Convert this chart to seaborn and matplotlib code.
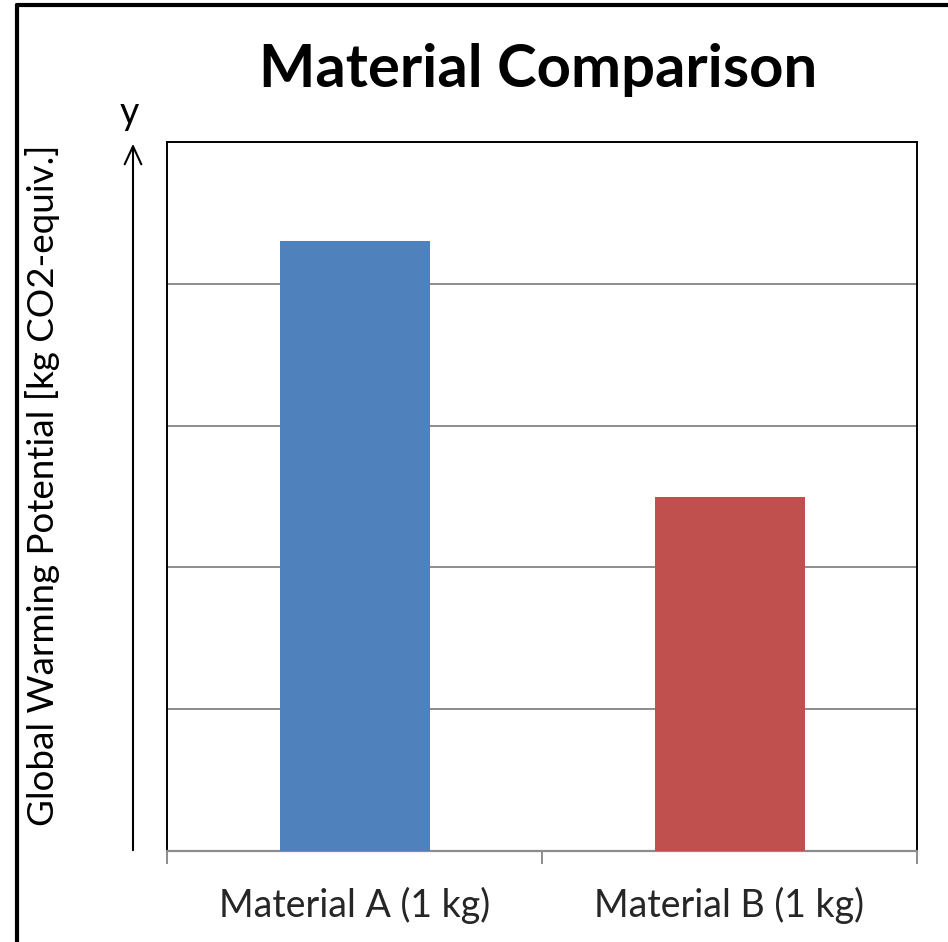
import matplotlib
matplotlib.use("Agg")
import matplotlib.pyplot as plt
import seaborn as sns
import pandas as pd
from matplotlib.lines import Line2D

# Data
materials = ["Material A (1 kg)", "Material B (1 kg)"]
gwp_values = [4.30, 2.50]
bar_colors = ["#4F81BD", "#C0504D"]
y_ticks = [0, 1, 2, 3, 4, 5]

sns.set_theme(style="white")
plt.rcParams["font.family"] = ["Lato", "DejaVu Sans"]

W, H = 948, 942
fig = plt.figure(figsize=(W / 100, H / 100), dpi=100)
fig.patch.set_facecolor("white")

def fx(px):
    return px / W

def fy(py):
    return 1 - py / H

ax = fig.add_axes([fx(167), fy(851), (917 - 167) / W, (851 - 142) / H])

df = pd.DataFrame({"material": materials, "gwp": gwp_values})
sns.barplot(data=df, x="material", y="gwp", hue="material",
            palette=bar_colors, width=0.40, saturation=1, legend=False,
            linewidth=0, ax=ax, zorder=3)

ax.set_xlim(-0.5, 1.5)
ax.set_ylim(y_ticks[0], y_ticks[-1])
ax.set_yticks(y_ticks)
ax.set_yticklabels([])
ax.tick_params(axis="y", length=0)
ax.yaxis.grid(True, color="#8C8C8C", linewidth=1.4, zorder=0)
ax.set_axisbelow(True)

ax.set_xticks([-0.5, 0.5, 1.5], minor=False)
ax.set_xticklabels([])
ax.set_xticks([0, 1], minor=True)
ax.set_xticklabels(materials, minor=True, fontsize=27)
ax.tick_params(axis="x", which="major", length=9, width=1.4, color="#8C8C8C",
               direction="out", bottom=True)
ax.tick_params(axis="x", which="minor", length=0, pad=26)
ax.set_xlabel("")
ax.set_ylabel("")

for side in ["left", "top", "right"]:
    ax.spines[side].set_color("black")
    ax.spines[side].set_linewidth(1.4)
ax.spines["bottom"].set_color("#8C8C8C")
ax.spines["bottom"].set_linewidth(1.6)

# Title and axis annotations
fig.text(fx(538), fy(70), "Material Comparison", ha="center", va="center",
         fontsize=43, fontweight="bold", color="black")
fig.text(fx(43), fy(485), "Global Warming Potential [kg CO2-equiv.]",
         rotation=90, ha="center", va="center", fontsize=26.5, color="black")
fig.text(fx(129), fy(113), "y", ha="center", va="center", fontsize=27,
         color="black")

# Vertical arrow for the y direction
fig.patches.append(matplotlib.patches.FancyArrowPatch(
    (fx(133), fy(853)), (fx(133), fy(141)), transform=fig.transFigure,
    arrowstyle="->,head_length=13,head_width=6", color="black", linewidth=1.5,
    mutation_scale=1))

# Outer frame
frame_kw = dict(color="black", linewidth=3, transform=fig.transFigure)
fig.lines.append(Line2D([fx(17), fx(17)], [fy(5), fy(945)], **frame_kw))
fig.lines.append(Line2D([fx(17), fx(950)], [fy(5), fy(5)], **frame_kw))

fig.savefig("out.png", dpi=100, facecolor="white")
